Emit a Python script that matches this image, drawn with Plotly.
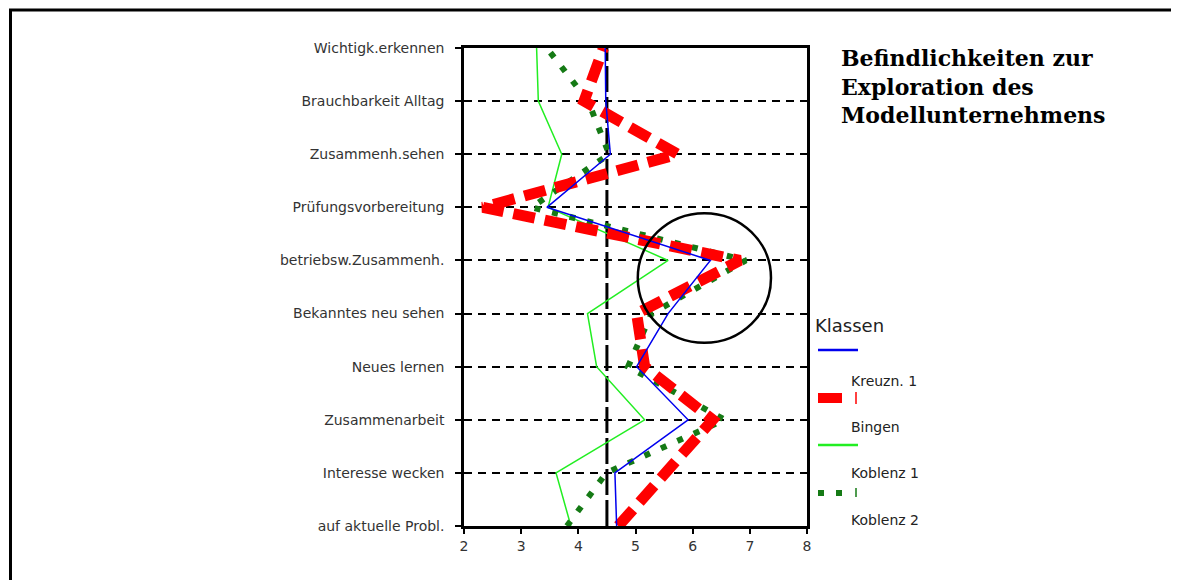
import plotly.graph_objects as go

categories = ["auf aktuelle Probl.", "Interesse wecken", "Zusammenarbeit", "Neues lernen",
              "Bekanntes neu sehen", "betriebsw.Zusammenh.", "Prüfungsvorbereitung",
              "Zusammenh.sehen", "Brauchbarkeit Alltag", "Wichtigk.erkennen"]
# values listed bottom -> top, matching categories
klassen = [4.67, 4.64, 5.92, 5.02, 5.57, 6.31, 3.45, 4.56, 4.48, 4.47]
kreuzn1 = [4.70, 5.54, 6.35, 5.16, 5.02, 6.83, 2.33, 5.74, 4.10, 4.44]
bingen = [3.87, 3.61, 5.16, 4.32, 4.16, 5.57, 3.47, 3.71, 3.30, 3.27]
koblenz1 = [3.80, 4.49, 6.56, 4.87, 5.28, 6.93, 3.18, 4.54, 4.17, 3.45]
koblenz2 = [None] * 10
x_ticks = [2, 3, 4, 5, 6, 7, 8]
ref_value = 4.5

OFF = 8  # page body margin
W, H = 1179 - OFF, 580 - OFF
L, R, T, B = 464 - OFF, 807 - OFF, 48 - OFF, 526 - OFF

def px(xp):
    return (xp - OFF - L) / (R - L)

def py(yp):
    return (B - (yp - OFF)) / (B - T)

ypos = list(range(len(categories)))

fig = go.Figure()
fig.add_trace(go.Scatter(x=[ref_value, ref_value], y=[0, 9], mode="lines",
                         line=dict(color="black", width=3, dash="26px,5px"),
                         showlegend=False, hoverinfo="skip"))
fig.add_trace(go.Scatter(x=bingen, y=ypos, mode="lines", name="Bingen",
                         line=dict(color="#22ee22", width=1.5)))
fig.add_trace(go.Scatter(x=koblenz1, y=ypos, mode="lines", name="Koblenz 1",
                         line=dict(color="#157a15", width=6, dash="6px,12px")))
fig.add_trace(go.Scatter(x=kreuzn1, y=ypos, mode="lines", name="Kreuzn. 1",
                         line=dict(color="#ff0000", width=11, dash="22px,10px")))
fig.add_trace(go.Scatter(x=klassen, y=ypos, mode="lines", name="Klassen",
                         line=dict(color="#0000ee", width=1.5)))
fig.add_trace(go.Scatter(x=koblenz2, y=ypos, mode="lines", name="Koblenz 2",
                         line=dict(color="#000000", width=0)))

shapes = [
    # highlight circle
    dict(type="circle", xref="x", yref="y", x0=5.04, x1=7.37, y0=3.45, y1=5.89,
         line=dict(color="black", width=2.5)),
    # outer frame (left and top edges visible)
    dict(type="rect", xref="paper", yref="paper", x0=px(10.5), x1=px(1300), y0=py(700), y1=py(10),
         line=dict(color="black", width=3), layer="above"),
]

# manual legend samples (paper coordinates)
legend_samples = [
    (350, dict(color="#0000ee", width=2.5), 858),
    (398, dict(color="#ff0000", width=10), 842),
    (445, dict(color="#22ee22", width=2.5), 858),
    (493, dict(color="#157a15", width=6, dash="6px,12px"), 846),
]
for yy, ln, xend in legend_samples:
    shapes.append(dict(type="line", xref="paper", yref="paper", x0=px(818), x1=px(xend),
                       y0=py(yy), y1=py(yy), line=ln))
shapes.append(dict(type="line", xref="paper", yref="paper", x0=px(856), x1=px(856), y0=py(392), y1=py(404),
                   line=dict(color="#ff0000", width=1.5)))
shapes.append(dict(type="line", xref="paper", yref="paper", x0=px(856), x1=px(856), y0=py(488), y1=py(497),
                   line=dict(color="#157a15", width=1.5)))

annotations = [
    dict(text="<b>Befindlichkeiten zur<br>Exploration des<br>Modellunternehmens</b>", xref="paper", yref="paper",
         x=px(839), y=py(43), xanchor="left", yanchor="top", align="left", showarrow=False,
         font=dict(family="DejaVu Serif", size=22, color="black")),
    dict(text="Klassen", xref="paper", yref="paper", x=px(813), y=py(325), xanchor="left", yanchor="middle",
         showarrow=False, font=dict(family="DejaVu Sans", size=18, color="#222")),
]
for label, yy in [("Kreuzn. 1", 381), ("Bingen", 427), ("Koblenz 1", 473), ("Koblenz 2", 520)]:
    annotations.append(dict(text=label, xref="paper", yref="paper", x=px(849), y=py(yy), xanchor="left",
                            yanchor="middle", showarrow=False,
                            font=dict(family="DejaVu Sans", size=14, color="#222")))

fig.update_layout(
    width=W, height=H,
    margin=dict(l=L, r=W - R, t=T, b=H - B),
    paper_bgcolor="white", plot_bgcolor="white",
    showlegend=False,
    shapes=shapes, annotations=annotations,
    font=dict(family="DejaVu Sans", color="#333"),
    xaxis=dict(range=[2, 8], tickvals=x_ticks, ticktext=[str(v) for v in x_ticks],
               showgrid=False, zeroline=False, showline=True, linecolor="black", linewidth=2.5,
               mirror=True, ticks="outside", ticklen=5, tickcolor="black", tickwidth=2,
               tickfont=dict(size=14, color="#333")),
    yaxis=dict(range=[0, 9], tickvals=ypos, ticktext=categories,
               showgrid=True, gridcolor="black", gridwidth=2, griddash="8px,6px",
               zeroline=False, showline=True, linecolor="black", linewidth=2.5,
               mirror=True, ticks="outside", ticklen=6, tickcolor="black", tickwidth=2,
               tickfont=dict(size=14, color="#333"), ticklabelstandoff=8),
)

fig.write_html("out.html")
